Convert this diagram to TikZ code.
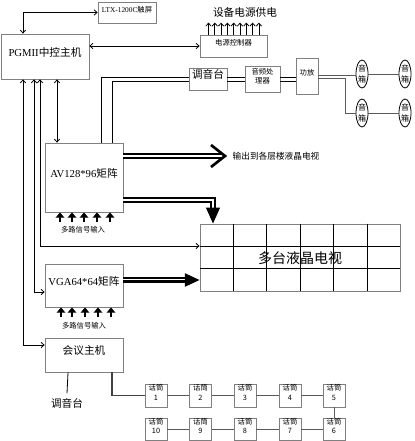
\documentclass[tikz,border=0pt]{standalone}
\usepackage{fontspec}
\setmainfont{Liberation Serif}
\newfontfamily\cjk{Noto Sans CJK SC}
\usetikzlibrary{arrows.meta,fit,calc,shapes.geometric}
\begin{document}
\begin{tikzpicture}[x=0.75pt,y=-0.75pt,
  box/.style={draw=gray, line width=0.6pt, inner sep=0pt, align=center},
  big/.style={font=\fontsize{8}{9}\selectfont},
  small/.style={font=\fontsize{5.5}{6.5}\selectfont},
  conn/.style={draw=black, line width=0.6pt},
  thin/.style={draw=gray!70!black, line width=0.6pt},
  >={Straight Barb[length=2.2pt,width=4pt]},
  fat/.style={draw=black, line width=1.4pt, double=white, double distance=1.6pt, line join=miter},
  inarrow/.style={line width=1.6pt, -{Triangle[length=4pt,width=6.5pt]}},
  spk/.style={ellipse, draw=black, line width=0.6pt, minimum width=12*0.75pt, minimum height=28*0.75pt, inner sep=0pt, align=center, font=\fontsize{6}{8.5}\selectfont\cjk},
  mic/.style={box, font=\fontsize{5.5}{7}\selectfont}
]
\useasboundingbox (0,0) rectangle (414,441);

% boxes
\node[box,big,fit={(1,34) (89,79)}] (pg) {PGMII{\cjk 中控主机}};
\node[box,small,fit={(98,2) (156,23)}] (ltx) {LTX-1200C{\cjk 触屏}};
\node[box,small,fit={(200,35) (267,57)}] (pwr) {\cjk 电源控制器};
\node[big] (pwrtxt) at (245,12) {\cjk 设备电源供电};
\node[box,big,fit={(189,68) (227,90)}] (tiao) {\cjk 调音台};
\node[box,small,fit={(245,66) (280,92)}] (yp) {\cjk 音频处\\\cjk 理器};
\node[box,small,fit={(296,58) (318,94)}] (gf) {\cjk 功放};
\node[spk] (s1) at (362,74) {音\\箱};
\node[spk] (s2) at (405,74) {音\\箱};
\node[spk] (s3) at (362,113) {音\\箱};
\node[spk] (s4) at (405,113) {音\\箱};

\node[box,big,fit={(45,143) (123,212)}] (av) {AV128*96{\cjk 矩阵}};
\node[small] (avin) at (83,230) {\cjk 多路信号输入};
\node[box,big,fit={(45,264) (123,307)}] (vga) {VGA64*64{\cjk 矩阵}};
\node[small] (vgain) at (84,326) {\cjk 多路信号输入};
\node[box,big,fit={(45,338) (123,372)}] (meet) {\cjk 会议主机};
\node[big] (tt) at (67,403) {\cjk 调音台};

\node[font=\fontsize{6.5}{8}\selectfont\cjk, anchor=west] (outtxt) at (228,156) {输出到各层楼液晶电视};

% TV wall
\node[draw=gray, line width=0.7pt, inner sep=0pt, fit={(200,224) (400,291)}] (tv) {};
\foreach \i in {1,...,5} \draw[line width=0.5pt] ($(tv.north west)!\i/6!(tv.north east)$) -- ($(tv.south west)!\i/6!(tv.south east)$);
\foreach \j in {1,2} \draw[line width=0.5pt] ($(tv.north west)!\j/3!(tv.south west)$) -- ($(tv.north east)!\j/3!(tv.south east)$);
\node[inner sep=1pt, font=\fontsize{10.5}{12}\selectfont\cjk] (tvtxt) at (300,258) {多台液晶电视};

% mics
\foreach \i/\x in {1/145,2/189.5,3/234,4/279,5/323} {
  \node[mic, fit={(\x,384) (\x+22,407)}] (m\i) {\cjk 话筒\\\i};
}
\foreach \i/\x in {10/145,9/189.5,8/234,7/279,6/323} {
  \node[mic, fit={(\x,418) (\x+22,440.5)}] (m\i) {\cjk 话筒\\\i};
}
\foreach \a/\b in {1/2,2/3,3/4,4/5,5/6,6/7,7/8,8/9,9/10} \draw[thin] (m\a) -- (m\b);

% control connections
\draw[conn,<->] (pg.north -| 23,0) |- (ltx.west);
\draw[conn,<->] (pg.east |- 0,46) -- (pwr.west |- 0,46);
\foreach \k in {0,...,8} \draw[conn,->] (pwr.north -| 208.5+\k*6.3,0) -- +(0,-12);
\draw[conn,<->] (pg.south -| 57,0) -- (av.north -| 57,0);
\draw[conn,<->] (pg.south -| 23,0) |- (meet.west |- 0,345);
\draw[conn,<->] (pg.south -| 34,0) |- (vga.west |- 0,292);
\draw[conn,<->] (pg.south -| 40,0) |- (tv.west |- 0,246);

% audio chain
\draw[conn] (av.north -| 101,0) |- (tiao.west |- 0,77);
\draw[conn] (av.north -| 112,0) |- (tiao.west |- 0,81);
\draw[conn] (tiao.east |- 0,77) -- (yp.west |- 0,77);
\draw[conn] (tiao.east |- 0,81) -- (yp.west |- 0,81);
\draw[conn] (yp.east |- 0,77) -- (gf.west |- 0,77);
\draw[conn] (yp.east |- 0,81) -- (gf.west |- 0,81);
\draw[thin] (gf.east |- 0,75) -- (s1.west |- 0,75);
\draw[thin] (gf.east |- 0,78) -| (345,113) -- (s3.west);
\draw[thin] (s1) -- (s2);
\draw[thin] (s3) -- (s4);

% matrix inputs
\foreach \x in {60,72,84,97,110} \draw[inarrow] (\x,222) -- (av.south -| \x,0);
\foreach \x in {61,72,85,98,111} \draw[inarrow] (\x,317) -- (vga.south -| \x,0);

% AV outputs
\coordinate (o1) at (222,156);
\draw[fat] (av.east |- o1) -- (o1);
\draw[line width=2pt, line join=miter] (211,145) -- (225,156) -- (211,167);
\coordinate (o2) at (213,210);
\draw[fat] (av.east |- 0,200) -| (o2);
\draw[line width=0.8pt, -{Triangle[length=12pt,width=10.5pt]}] (213,208) -- (tv.north -| 213,0);

% VGA output
\coordinate (o3) at (190,280);
\draw[line width=1pt, double=white, double distance=1.8pt] (vga.east |- o3) -- (o3);
\draw[line width=0.7pt] (vga.east |- o3) -- (o3);
\draw[line width=0.8pt, -{Triangle[length=11pt,width=10pt]}] (186,280) -- (tv.west |- o3);

% meeting host
\draw[conn] (meet.south -| 68,0) -- (tt.north);
\draw[draw=gray!50!black, line width=1.3pt] (meet.south -| 112,0) |- (m1.west);
\end{tikzpicture}
\end{document}
